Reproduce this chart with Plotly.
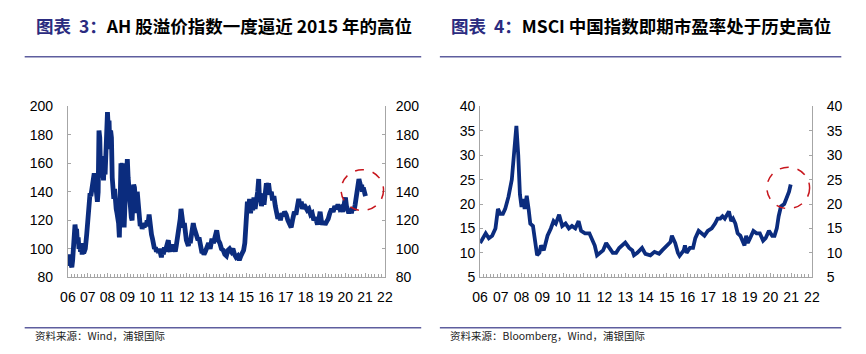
import plotly.graph_objects as go
import pandas as pd

# ---------------- data ----------------
ah_years = [2006.00, 2006.03, 2006.06, 2006.09, 2006.12, 2006.16, 2006.20, 2006.24, 2006.28, 2006.32,
            2006.36, 2006.40, 2006.44, 2006.48, 2006.52, 2006.56, 2006.60, 2006.64, 2006.68, 2006.72,
            2006.76, 2006.80, 2006.88, 2006.95, 2007.00, 2007.04, 2007.08, 2007.12, 2007.16, 2007.20,
            2007.24, 2007.28, 2007.33, 2007.37, 2007.41, 2007.45, 2007.49, 2007.53, 2007.57, 2007.61,
            2007.64, 2007.68, 2007.72, 2007.76, 2007.80, 2007.84, 2007.88, 2007.92, 2007.96, 2008.00,
            2008.04, 2008.08, 2008.12, 2008.16, 2008.20, 2008.24, 2008.28, 2008.32, 2008.36, 2008.40,
            2008.44, 2008.48, 2008.52, 2008.56, 2008.60, 2008.64, 2008.68, 2008.72, 2008.76, 2008.80,
            2008.84, 2008.88, 2008.92, 2008.96, 2009.00, 2009.04, 2009.08, 2009.12, 2009.16, 2009.20,
            2009.24, 2009.28, 2009.32, 2009.36, 2009.40, 2009.44, 2009.50, 2009.55, 2009.60, 2009.65,
            2009.70, 2009.75, 2009.80, 2009.85, 2009.90, 2009.95, 2010.00, 2010.05, 2010.10, 2010.14,
            2010.18, 2010.22, 2010.27, 2010.32, 2010.37, 2010.42, 2010.47, 2010.52, 2010.57, 2010.62,
            2010.67, 2010.72, 2010.77, 2010.82, 2010.87, 2010.92, 2010.97, 2011.02, 2011.07, 2011.12,
            2011.17, 2011.22, 2011.27, 2011.32, 2011.37, 2011.42, 2011.47, 2011.52, 2011.57, 2011.62,
            2011.67, 2011.71, 2011.75, 2011.79, 2011.83, 2011.88, 2011.93, 2011.98, 2012.03, 2012.08,
            2012.13, 2012.18, 2012.23, 2012.28, 2012.33, 2012.37, 2012.42, 2012.47, 2012.52, 2012.57,
            2012.62, 2012.67, 2012.72, 2012.77, 2012.82, 2012.87, 2012.94, 2013.02, 2013.10, 2013.18,
            2013.27, 2013.35, 2013.43, 2013.51, 2013.59, 2013.67, 2013.75, 2013.84, 2013.92, 2014.00,
            2014.08, 2014.16, 2014.25, 2014.33, 2014.41, 2014.49, 2014.57, 2014.65, 2014.73, 2014.80,
            2014.87, 2014.93, 2014.97, 2015.01, 2015.06, 2015.12, 2015.17, 2015.22, 2015.28, 2015.33,
            2015.39, 2015.45, 2015.52, 2015.58, 2015.63, 2015.67, 2015.71, 2015.77, 2015.84, 2015.90,
            2015.96, 2016.02, 2016.07, 2016.13, 2016.20, 2016.27, 2016.33, 2016.40, 2016.47, 2016.53,
            2016.60, 2016.66, 2016.73, 2016.80, 2016.86, 2016.94, 2017.02, 2017.10, 2017.18, 2017.27,
            2017.35, 2017.43, 2017.51, 2017.59, 2017.65, 2017.71, 2017.78, 2017.84, 2017.92, 2018.00,
            2018.08, 2018.16, 2018.25, 2018.33, 2018.41, 2018.49, 2018.55, 2018.60, 2018.67, 2018.73,
            2018.79, 2018.85, 2018.92, 2018.98, 2019.06, 2019.14, 2019.22, 2019.31, 2019.39, 2019.47,
            2019.55, 2019.63, 2019.72, 2019.80, 2019.87, 2019.93, 2020.01, 2020.06, 2020.12, 2020.18,
            2020.25, 2020.31, 2020.37, 2020.45, 2020.50, 2020.55, 2020.61, 2020.66, 2020.69, 2020.74,
            2020.78, 2020.83, 2020.86, 2020.91, 2020.96, 2021.02]
ah_values = [92, 88, 96, 90, 94, 89, 87, 92, 105, 116,
             117, 112, 114, 104, 108, 100, 103, 98, 104, 96,
             100, 97, 100, 110, 120, 130, 127, 139, 137, 142,
             140, 148, 153, 150, 144, 138, 133, 140, 183, 178,
             160, 165, 150, 155, 148, 163, 152, 175, 190, 196,
             185, 190, 170, 183, 178, 150, 145, 135, 142, 130,
             128, 125, 122, 118, 108, 125, 160, 158, 160, 140,
             115, 130, 145, 160, 163, 150, 140, 133, 130, 122,
             120, 130, 145, 143, 135, 125, 140, 128, 120, 116,
             118, 114, 117, 115, 118, 116, 120, 118, 124, 117,
             113, 110, 107, 102, 100, 101, 98, 100, 97, 100,
             95, 94, 99, 96, 101, 98, 101, 103, 106, 100,
             98, 102, 99, 103, 100, 98, 102, 106, 110, 118,
             121, 128, 120, 124, 115, 118, 110, 106, 104, 102,
             106, 104, 109, 112, 118, 115, 112, 110, 108, 106,
             108, 104, 100, 97, 98, 96, 98, 101, 104, 100,
             107, 104, 110, 113, 106, 104, 100, 99, 96, 95,
             99, 100, 98, 100, 96, 94, 95, 92, 95, 97,
             99, 104, 120, 130, 133, 128, 135, 125, 132, 127,
             136, 128, 134, 140, 149, 135, 139, 130, 135, 131,
             140, 146, 142, 146, 138, 140, 134, 137, 130, 127,
             121, 124, 120, 125, 123, 126, 124, 120, 117, 115,
             121, 126, 124, 131, 135, 130, 133, 128, 131, 129,
             127, 128, 124, 125, 120, 122, 118, 117, 121, 126,
             120, 117, 119, 117, 119, 121, 125, 128, 126, 130,
             128, 131, 128, 129, 126, 130, 136, 130, 127, 125,
             128, 125, 129, 127, 131, 136, 142, 145, 149, 146,
             144, 145, 140, 143, 139, 137]

pe_years = [2006.00, 2006.11, 2006.27, 2006.42, 2006.58, 2006.74, 2006.86, 2006.97, 2007.10, 2007.21,
            2007.37, 2007.53, 2007.65, 2007.75, 2007.84, 2007.92, 2008.00, 2008.08, 2008.15, 2008.25,
            2008.34, 2008.42, 2008.55, 2008.66, 2008.75, 2008.86, 2008.94, 2009.07, 2009.25, 2009.41,
            2009.54, 2009.65, 2009.81, 2009.96, 2010.12, 2010.28, 2010.43, 2010.59, 2010.75, 2010.87,
            2011.06, 2011.27, 2011.42, 2011.53, 2011.64, 2011.77, 2011.93, 2012.08, 2012.24, 2012.40,
            2012.56, 2012.71, 2013.00, 2013.19, 2013.34, 2013.42, 2013.58, 2013.81, 2013.97, 2014.21,
            2014.41, 2014.63, 2014.78, 2014.90, 2015.02, 2015.18, 2015.25, 2015.33, 2015.41, 2015.54,
            2015.62, 2015.73, 2015.82, 2015.88, 2015.96, 2016.04, 2016.12, 2016.27, 2016.38, 2016.54,
            2016.67, 2016.82, 2016.98, 2017.17, 2017.33, 2017.45, 2017.58, 2017.69, 2017.80, 2017.92,
            2018.00, 2018.11, 2018.20, 2018.31, 2018.42, 2018.55, 2018.67, 2018.75, 2018.83, 2018.91,
            2019.02, 2019.18, 2019.33, 2019.49, 2019.65, 2019.77, 2019.93, 2020.09, 2020.20, 2020.31,
            2020.40, 2020.51, 2020.67, 2020.82, 2020.90, 2020.98]
pe_values = [12, 13, 14, 13, 13.5, 15, 19, 18, 18, 19,
             21.5, 25, 31, 36, 30, 22, 19.4, 21, 19, 21.7,
             19, 16, 15.5, 12, 9.5, 10, 11.5, 10.5, 13.5, 15,
             16.5, 16, 17.8, 15.5, 16, 15, 15.5, 15, 16.5, 14.5,
             14, 14, 12.5, 11.5, 9.5, 10, 10.5, 12, 11, 10,
             10, 11, 12.1, 11, 10.5, 9.5, 10, 11, 9.8, 9.5,
             10.2, 9.8, 10.5, 11, 11.5, 12.2, 13.5, 12.8, 12, 10,
             9.4, 10, 10.5, 11.5, 10, 10.5, 11, 11, 13, 14.5,
             14, 13.5, 14.5, 15, 16, 17, 17, 17.5, 17, 17.8,
             18.5, 16.5, 17, 16, 14, 13.5, 12.5, 11.5, 13.5, 12,
             13, 14.5, 14, 14, 12.5, 13, 14.5, 13.5, 13.5, 15,
             17.5, 19.5, 20, 21.5, 22.5, 24]

year_ticks = list(range(2006, 2023))
year_labels = [f"{y % 100:02d}" for y in year_ticks]

left_title = "<b><span style='color:#2B2B80'>图表\u00a0\u00a03：</span>AH 股溢价指数一度逼近 2015 年的高位</b>"
right_title = "<b><span style='color:#2B2B80'>图表\u00a0\u00a04：</span>MSCI 中国指数即期市盈率处于历史高位</b>"
left_source = "资料来源：Wind，浦银国际"
right_source = "资料来源：Bloomberg，Wind，浦银国际"


def to_date(y):
    yr = int(y)
    return pd.Timestamp(yr, 1, 1) + pd.Timedelta(days=(y - yr) * 365.25)


ah_dates = [to_date(y) for y in ah_years]
pe_dates = [to_date(y) for y in pe_years]
tick_dates = [pd.Timestamp(y, 1, 1) for y in year_ticks]

W, H = 866, 354
LINE = "#0B2C7E"
AXC = "#A6A6A6"
FONT = "Liberation Sans, Arial, sans-serif"
CJK = "Noto Sans CJK SC, sans-serif"

def px(x):
    return x / W

def py(y):
    return 1 - y / H

fig = go.Figure()
fig.add_trace(go.Scatter(x=ah_dates, y=ah_values, mode="lines", line=dict(color=LINE, width=4.8),
                         xaxis="x", yaxis="y", showlegend=False, hoverinfo="skip"))
fig.add_trace(go.Scatter(x=ah_dates, y=ah_values, mode="lines", line=dict(color="rgba(0,0,0,0)", width=0.1),
                         xaxis="x", yaxis="y2", showlegend=False, hoverinfo="skip"))
fig.add_trace(go.Scatter(x=pe_dates, y=pe_values, mode="lines", line=dict(color=LINE, width=3.8),
                         xaxis="x2", yaxis="y3", showlegend=False, hoverinfo="skip"))
fig.add_trace(go.Scatter(x=pe_dates, y=pe_values, mode="lines", line=dict(color="rgba(0,0,0,0)", width=0.1),
                         xaxis="x2", yaxis="y4", showlegend=False, hoverinfo="skip"))

ydom = [py(282), py(103)]
xdom1 = [px(61), px(384)]
xdom2 = [px(481), px(819)]

xcommon = dict(type="date", range=[pd.Timestamp(2006, 1, 1), pd.Timestamp(2022, 1, 1)],
               tickmode="array", tickvals=tick_dates, ticktext=year_labels,
               ticks="inside", ticklen=4, tickcolor=AXC, showline=True, linecolor=AXC, linewidth=1,
               showgrid=False, zeroline=False, tickfont=dict(family=FONT, size=14, color="#000"),
               ticklabelstandoff=7,
               minor=dict(ticks="inside", ticklen=3, tickcolor=AXC, dtick="M2", tick0="2006-01-01", showgrid=False))
ycommon = dict(showline=True, linecolor=AXC, linewidth=1, showgrid=False, zeroline=False,
               ticks="inside", ticklen=3, tickcolor=AXC, tickfont=dict(family=FONT, size=14, color="#000"))

fig.update_layout(
    width=W, height=H, margin=dict(l=0, r=0, t=0, b=0),
    paper_bgcolor="white", plot_bgcolor="white",
    xaxis=dict(domain=xdom1, anchor="y", **xcommon),
    xaxis2=dict(domain=xdom2, anchor="y3", **xcommon),
    yaxis=dict(domain=ydom, anchor="x", range=[80, 200], dtick=20, side="left", ticklabelstandoff=11, **ycommon),
    yaxis2=dict(anchor="x", overlaying="y", range=[80, 200], dtick=20, side="right", ticklabelstandoff=7, **ycommon),
    yaxis3=dict(domain=ydom, anchor="x2", range=[5, 40], dtick=5, side="left", ticklabelstandoff=1, **ycommon),
    yaxis4=dict(anchor="x2", overlaying="y3", range=[5, 40], dtick=5, side="right", ticklabelstandoff=11, **ycommon),
)

shapes = []
# dashed circles
shapes.append(dict(type="circle", xref="x", yref="y",
                   x0=to_date(2019.79), x1=to_date(2021.93), y0=126.9, y1=155.5,
                   line=dict(color="#C8161D", width=1.5, dash="dash")))
shapes.append(dict(type="circle", xref="x2", yref="y3",
                   x0=to_date(2019.83), x1=to_date(2021.89), y0=19.06, y1=27.54,
                   line=dict(color="#C8161D", width=1.5, dash="dash")))
# header/footer rules
for (xa, xb) in [(17, 421), (440, 849)]:
    for yy in (51, 335):
        shapes.append(dict(type="line", xref="paper", yref="paper", x0=px(xa), x1=px(xb), y0=py(yy), y1=py(yy),
                           line=dict(color="#5E5E9E", width=1.5)))
fig.update_layout(shapes=shapes)

ann = []
ann.append(dict(text=left_title, x=px(26), y=py(18), xref="paper", yref="paper", xanchor="left", yanchor="middle",
                showarrow=False, font=dict(family=CJK, size=17.5, color="#000")))
ann.append(dict(text=right_title, x=px(449), y=py(18), xref="paper", yref="paper", xanchor="left", yanchor="middle",
                showarrow=False, font=dict(family=CJK, size=17.5, color="#000")))
ann.append(dict(text=left_source, x=px(25), y=py(343), xref="paper", yref="paper", xanchor="left", yanchor="middle",
                showarrow=False, font=dict(family=CJK, size=10.5, color="#222")))
ann.append(dict(text=right_source, x=px(448), y=py(343), xref="paper", yref="paper", xanchor="left", yanchor="middle",
                showarrow=False, font=dict(family=CJK, size=10.5, color="#222")))
fig.update_layout(annotations=ann)

fig.write_html("out.html")
